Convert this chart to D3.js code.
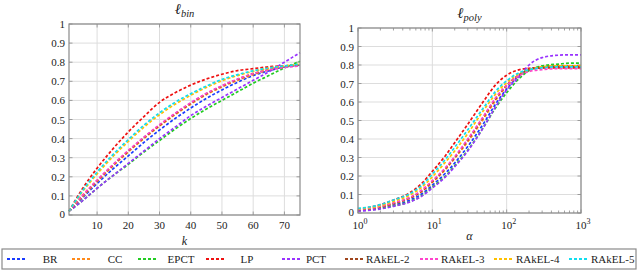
<!DOCTYPE html>
<html>
<head>
<meta charset="utf-8">
<script src="https://cdn.jsdelivr.net/npm/d3@7"></script>
<style>
  body { margin: 0; background: #fff; }
</style>
</head>
<body>
<div id="chart"></div>
<script>
const methods = ["BR", "CC", "EPCT", "LP", "PCT", "RAkEL-2", "RAkEL-3", "RAkEL-4", "RAkEL-5"];
const colors = ["#1a3cff", "#ff8a1a", "#22cc22", "#ee1111", "#9933ff", "#a0461e", "#ff44cc", "#ffc000", "#11ddee"];

// left panel: l_bin vs k
const kValues = [1, 5, 10, 15, 20, 25, 30, 35, 40, 45, 50, 55, 60, 65, 70, 75];
const binBR     = [0.02, 0.085, 0.165, 0.24, 0.31, 0.38, 0.445, 0.505, 0.56, 0.61, 0.655, 0.695, 0.73, 0.755, 0.775, 0.785];
const binCC     = [0.02, 0.09, 0.175, 0.255, 0.33, 0.4, 0.465, 0.525, 0.58, 0.63, 0.67, 0.705, 0.735, 0.76, 0.775, 0.785];
const binEPCT   = [0.02, 0.07, 0.14, 0.205, 0.265, 0.33, 0.39, 0.45, 0.505, 0.555, 0.6, 0.645, 0.69, 0.73, 0.77, 0.805];
const binLP     = [0.02, 0.13, 0.245, 0.345, 0.435, 0.515, 0.59, 0.64, 0.68, 0.712, 0.737, 0.756, 0.766, 0.776, 0.781, 0.785];
const binPCT    = [0.02, 0.07, 0.14, 0.205, 0.27, 0.335, 0.4, 0.46, 0.52, 0.57, 0.615, 0.66, 0.705, 0.75, 0.8, 0.85];
const binRAkEL2 = [0.02, 0.095, 0.18, 0.26, 0.335, 0.405, 0.47, 0.53, 0.585, 0.635, 0.675, 0.71, 0.74, 0.76, 0.775, 0.785];
const binRAkEL3 = [0.02, 0.097, 0.183, 0.263, 0.338, 0.408, 0.473, 0.533, 0.588, 0.637, 0.677, 0.712, 0.74, 0.76, 0.772, 0.78];
const binRAkEL4 = [0.02, 0.115, 0.215, 0.305, 0.385, 0.46, 0.525, 0.58, 0.627, 0.668, 0.703, 0.73, 0.752, 0.768, 0.78, 0.79];
const binRAkEL5 = [0.02, 0.12, 0.225, 0.315, 0.395, 0.47, 0.535, 0.59, 0.635, 0.675, 0.71, 0.735, 0.755, 0.77, 0.78, 0.79];
const binSeries = [binBR, binCC, binEPCT, binLP, binPCT, binRAkEL2, binRAkEL3, binRAkEL4, binRAkEL5];

// right panel: l_poly vs alpha
const alphaValues = [1, 2, 3, 5, 7, 10, 15, 20, 30, 50, 70, 100, 150, 200, 300, 500, 700, 1000];
const polyBR     = [0.015, 0.028, 0.044, 0.07, 0.1, 0.15, 0.215, 0.27, 0.36, 0.49, 0.585, 0.67, 0.745, 0.775, 0.79, 0.795, 0.795, 0.795];
const polyCC     = [0.017, 0.032, 0.05, 0.08, 0.112, 0.165, 0.235, 0.295, 0.385, 0.515, 0.605, 0.685, 0.745, 0.775, 0.79, 0.795, 0.795, 0.795];
const polyEPCT   = [0.012, 0.024, 0.038, 0.062, 0.09, 0.14, 0.2, 0.255, 0.34, 0.47, 0.565, 0.65, 0.73, 0.77, 0.795, 0.805, 0.81, 0.81];
const polyLP     = [0.02, 0.045, 0.07, 0.11, 0.155, 0.225, 0.31, 0.38, 0.48, 0.61, 0.69, 0.745, 0.775, 0.782, 0.785, 0.785, 0.785, 0.785];
const polyPCT    = [0.01, 0.022, 0.036, 0.06, 0.088, 0.135, 0.195, 0.25, 0.335, 0.47, 0.57, 0.665, 0.74, 0.8, 0.84, 0.853, 0.855, 0.855];
const polyRAkEL2 = [0.018, 0.033, 0.052, 0.082, 0.115, 0.17, 0.24, 0.3, 0.395, 0.525, 0.615, 0.69, 0.75, 0.775, 0.785, 0.79, 0.79, 0.79];
const polyRAkEL3 = [0.02, 0.035, 0.055, 0.085, 0.12, 0.175, 0.245, 0.305, 0.4, 0.53, 0.62, 0.69, 0.745, 0.765, 0.775, 0.78, 0.78, 0.78];
const polyRAkEL4 = [0.022, 0.04, 0.063, 0.097, 0.135, 0.195, 0.275, 0.335, 0.43, 0.56, 0.64, 0.705, 0.755, 0.775, 0.79, 0.795, 0.795, 0.795];
const polyRAkEL5 = [0.025, 0.045, 0.07, 0.105, 0.145, 0.21, 0.29, 0.355, 0.45, 0.575, 0.655, 0.715, 0.76, 0.775, 0.785, 0.79, 0.79, 0.79];
const polySeries = [polyBR, polyCC, polyEPCT, polyLP, polyPCT, polyRAkEL2, polyRAkEL3, polyRAkEL4, polyRAkEL5];

const yTicks = [0, 0.1, 0.2, 0.3, 0.4, 0.5, 0.6, 0.7, 0.8, 0.9, 1];
const kTicks = [10, 20, 30, 40, 50, 60, 70];
const alphaTicks = [1, 10, 100, 1000];

const width = 640, height = 271;
const svg = d3.select("#chart").append("svg")
  .attr("width", width).attr("height", height)
  .attr("font-family", "'Liberation Serif', 'DejaVu Serif', serif");

const gridColor = "#dddddd";
const frameColor = "#8a8a8a";
const textColor = "#222";

function drawPanel(opts) {
  const x = opts.x, y = opts.y;
  const g = svg.append("g");
  const [x0, x1] = x.range(), [y0, y1] = y.range();

  // grid
  g.selectAll(".hg").data(yTicks).enter().append("line")
    .attr("x1", x0).attr("x2", x1)
    .attr("y1", d => y(d)).attr("y2", d => y(d))
    .attr("stroke", gridColor).attr("stroke-width", 1);
  g.selectAll(".vg").data(opts.xTicks).enter().append("line")
    .attr("x1", d => x(d)).attr("x2", d => x(d))
    .attr("y1", y0).attr("y2", y1)
    .attr("stroke", gridColor).attr("stroke-width", 1);

  // inward tick marks
  const tickLen = 3.5;
  const minor = opts.minor || [];
  g.selectAll(".tx").data(opts.xTicks.concat(minor)).enter().append("path")
    .attr("d", d => {
      const len = minor.includes(d) ? 2.5 : tickLen;
      return "M" + x(d) + "," + y0 + "v" + (-len) + "M" + x(d) + "," + y1 + "v" + len;
    })
    .attr("stroke", frameColor).attr("stroke-width", 0.8).attr("fill", "none");
  g.selectAll(".ty").data(yTicks).enter().append("path")
    .attr("d", d => "M" + x0 + "," + y(d) + "h" + tickLen + "M" + x1 + "," + y(d) + "h" + (-tickLen))
    .attr("stroke", frameColor).attr("stroke-width", 0.8).attr("fill", "none");

  // curves
  const line = d3.line()
    .x((d, i) => x(opts.xs[i]))
    .y(d => y(d))
    .curve(d3.curveMonotoneX);
  g.selectAll(".series").data(opts.series).enter().append("path")
    .attr("d", d => line(d))
    .attr("fill", "none")
    .attr("stroke", (d, i) => colors[i])
    .attr("stroke-width", 1.7)
    .attr("stroke-dasharray", "3,2");

  // frame
  g.append("rect")
    .attr("x", x0).attr("y", y1)
    .attr("width", x1 - x0).attr("height", y0 - y1)
    .attr("fill", "none").attr("stroke", frameColor).attr("stroke-width", 1.2);

  // y labels
  g.selectAll(".yl").data(yTicks).enter().append("text")
    .attr("x", x0 - 4).attr("y", d => y(d) + (d === 0 ? 3 : 4))
    .attr("text-anchor", "end").attr("font-size", 11).attr("fill", textColor)
    .text(d => d === 0 || d === 1 ? d : d.toFixed(1));

  // x labels
  opts.xLabels(g, x, y0);

  // axis label
  g.append("text")
    .attr("x", (x0 + x1) / 2).attr("y", opts.axisLabelY)
    .attr("text-anchor", "middle").attr("font-size", 12).attr("font-style", "italic")
    .attr("fill", textColor)
    .text(opts.axisLabel);

  // title
  const t = g.append("text")
    .attr("x", (x0 + x1) / 2).attr("y", opts.titleY)
    .attr("text-anchor", "middle").attr("font-style", "italic").attr("fill", textColor);
  t.append("tspan").attr("font-size", 15).text("ℓ");
  t.append("tspan").attr("font-size", 10.5).attr("dy", 3).text(opts.titleSub);
}

const xBin = d3.scaleLinear().domain([1, 75]).range([69, 300]);
const yBin = d3.scaleLinear().domain([0, 1]).range([215, 24]);
drawPanel({
  x: xBin, y: yBin, xs: kValues, series: binSeries, xTicks: kTicks,
  xLabels: (g, x, y0) => {
    g.selectAll(".xl").data(kTicks).enter().append("text")
      .attr("x", d => x(d)).attr("y", y0 + 14)
      .attr("text-anchor", "middle").attr("font-size", 11).attr("fill", textColor)
      .text(d => d);
  },
  axisLabel: "k", axisLabelY: 245, titleY: 14, titleSub: "bin"
});

const xPoly = d3.scaleLog().domain([1, 1000]).range([358, 581]);
const yPoly = d3.scaleLinear().domain([0, 1]).range([213, 28]);
const minorTicks = [];
[1, 10, 100].forEach(b => { for (let m = 2; m <= 9; m++) minorTicks.push(b * m); });
drawPanel({
  x: xPoly, y: yPoly, xs: alphaValues, series: polySeries, xTicks: alphaTicks, minor: minorTicks,
  xLabels: (g, x, y0) => {
    const t = g.selectAll(".xl").data(alphaTicks).enter().append("text")
      .attr("x", d => x(d) + 2).attr("y", y0 + 16)
      .attr("text-anchor", "middle").attr("font-size", 11).attr("fill", textColor);
    t.append("tspan").text("10");
    t.append("tspan").attr("font-size", 8).attr("dy", -5).text(d => Math.round(Math.log10(d)));
  },
  axisLabel: "α", axisLabelY: 240, titleY: 18, titleSub: "poly"
});

// legend
const legendX = [7, 72, 138, 206, 282, 345, 420, 494, 569];
const legendTextX = [50, 115, 181, 247, 316, 366, 441, 516, 591];
const lg = svg.append("g");
lg.append("rect")
  .attr("x", 2).attr("y", 249).attr("width", 634).attr("height", 20)
  .attr("fill", "#fff").attr("stroke", frameColor).attr("stroke-width", 1.2);
methods.forEach((m, i) => {
  lg.append("line")
    .attr("x1", legendX[i]).attr("x2", legendX[i] + 18)
    .attr("y1", 259).attr("y2", 259)
    .attr("stroke", colors[i]).attr("stroke-width", 2)
    .attr("stroke-dasharray", "3,2");
  lg.append("text")
    .attr("x", legendTextX[i]).attr("y", 263)
    .attr("text-anchor", i < 5 ? "middle" : "start")
    .attr("font-size", 11).attr("fill", textColor)
    .text(m);
});
</script>
</body>
</html>
